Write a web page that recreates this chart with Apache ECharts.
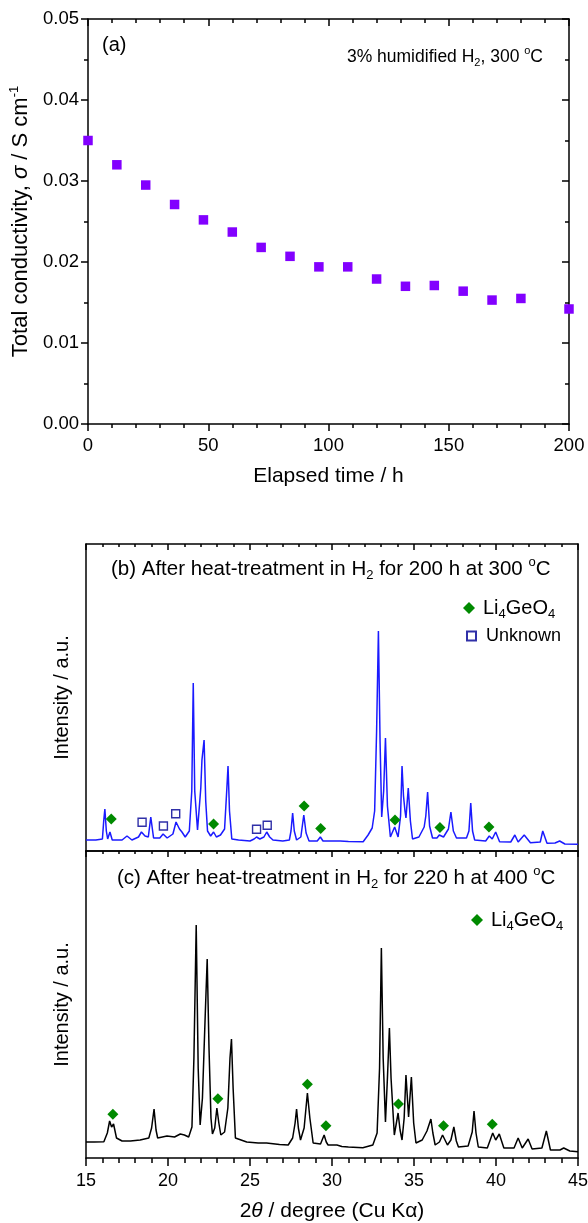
<!DOCTYPE html>
<html><head><meta charset="utf-8">
<script src="https://cdn.jsdelivr.net/npm/echarts@6/dist/echarts.min.js"></script>
<style>html,body{margin:0;padding:0;background:#fff}#c{width:588px;height:1223px}</style>
</head><body><div id="c"></div>
<script>
const FONT = '"Liberation Sans", Arial, Helvetica, sans-serif';

// ---- Panel (a): conductivity vs time ----
const timeH = [0, 12, 24, 36, 48, 60, 72, 84, 96, 108, 120, 132, 144, 156, 168, 180, 200];
const sigma = [0.0350, 0.0320, 0.0295, 0.0271, 0.0252, 0.0237, 0.0218, 0.0207, 0.0194, 0.0194, 0.0179, 0.0170, 0.0171, 0.0164, 0.0153, 0.0155, 0.0142];
const timeTicks = [0, 50, 100, 150, 200];
const sigmaTicks = [0.00, 0.01, 0.02, 0.03, 0.04, 0.05];

// ---- Panel (b): XRD after 200 h at 300 C ----
const twoThetaB = [15.0, 15.6, 16.0, 16.08, 16.15, 16.24, 16.32, 16.46, 16.6, 17.2, 17.5, 17.8, 18.2, 18.38, 18.6, 18.8, 18.95, 19.12, 19.5, 19.7, 19.95, 20.3, 20.49, 20.7, 20.85, 21.05, 21.3, 21.45, 21.54, 21.63, 21.8, 22.0, 22.07, 22.2, 22.3, 22.41, 22.6, 22.78, 22.95, 23.2, 23.45, 23.58, 23.66, 23.75, 23.89, 24.3, 25.0, 25.25, 25.4, 25.6, 25.85, 26.02, 26.2, 26.4, 27.0, 27.4, 27.5, 27.6, 27.7, 27.84, 28.1, 28.28, 28.42, 28.6, 29.1, 29.29, 29.45, 30.0, 30.5, 31.0, 31.9, 32.2, 32.45, 32.6, 32.72, 32.83, 32.93, 33.03, 33.15, 33.26, 33.38, 33.56, 33.82, 34.03, 34.18, 34.27, 34.36, 34.45, 34.51, 34.65, 34.78, 34.91, 35.3, 35.62, 35.72, 35.83, 35.95, 36.13, 36.4, 36.54, 36.8, 37.1, 37.25, 37.4, 37.59, 38.2, 38.35, 38.46, 38.57, 38.7, 39.37, 39.59, 39.77, 39.98, 40.22, 40.9, 41.15, 41.35, 41.72, 42.1, 42.7, 42.85, 43.11, 43.6, 43.88, 44.2, 45.0];
const intensityB = [11, 11, 12, 30, 42, 20, 12, 19, 11, 11, 15, 11, 14, 19, 15, 14, 34, 13, 13, 17, 13, 17, 29, 22, 19, 14, 20, 60, 168, 60, 21, 63, 91, 111, 50, 20, 15, 19, 14, 16, 22, 60, 85, 40, 12, 11, 10, 12, 14, 12, 14, 19, 14, 11, 10, 11, 20, 38, 20, 11, 14, 36, 18, 10, 10, 14, 10, 10, 10, 9.5, 9.3, 16, 23, 40, 120, 220, 110, 34, 60, 113, 45, 14, 24, 14, 35, 85, 55, 40, 33, 63, 30, 12, 14, 24, 35, 59, 25, 13, 13, 16, 14, 22, 39, 20, 13, 13, 20, 48, 20, 11, 10, 15, 12, 19, 9.3, 9, 16, 9, 16, 8.3, 9, 20, 7.7, 8, 10, 7, 6.7];
const li4geo4B2T = [16.54, 22.78, 28.3, 29.31, 33.84, 36.58, 39.57];
const li4geo4BInt = [32, 27, 45, 22.5, 31, 23.5, 24];
const unknownB2T = [18.42, 19.72, 20.47, 25.4, 26.05];
const unknownBInt = [28.7, 25, 37.3, 21.7, 25.7];

// ---- Panel (c): XRD after 220 h at 400 C ----
const twoThetaC = [15.0, 15.5, 16.09, 16.3, 16.44, 16.56, 16.68, 16.86, 17.2, 17.71, 18.3, 18.83, 19.0, 19.15, 19.27, 19.37, 19.94, 20.4, 20.75, 21.0, 21.26, 21.46, 21.58, 21.72, 21.84, 21.96, 22.1, 22.27, 22.39, 22.5, 22.62, 22.71, 22.85, 22.98, 23.1, 23.22, 23.45, 23.65, 23.78, 23.87, 23.97, 24.11, 24.8, 25.5, 26.01, 26.8, 27.33, 27.6, 27.75, 27.84, 27.95, 28.08, 28.3, 28.5, 28.65, 28.85, 29.3, 29.52, 29.65, 29.76, 30.3, 30.6, 31.0, 31.88, 32.49, 32.75, 32.9, 33.01, 33.12, 33.26, 33.38, 33.5, 33.6, 33.8, 34.03, 34.15, 34.27, 34.4, 34.51, 34.67, 34.84, 34.98, 35.12, 35.5, 35.79, 36.03, 36.15, 36.29, 36.55, 36.74, 37.04, 37.25, 37.43, 37.58, 37.71, 38.3, 38.55, 38.66, 38.78, 38.92, 39.47, 39.8, 39.98, 40.2, 40.48, 41.1, 41.35, 41.6, 41.96, 42.2, 42.8, 43.07, 43.32, 43.9, 44.13, 44.5, 45.0];
const intensityC = [16, 16, 16.3, 25, 37, 31, 34, 20, 17, 17, 18, 20, 30, 49, 28, 20, 22, 21, 24, 23, 21, 31, 100, 233, 90, 33, 60, 143, 199, 110, 40, 24, 30, 50, 35, 23, 26, 50, 100, 119, 70, 20, 16, 15, 15, 13.5, 13, 20, 35, 49, 30, 18, 30, 65, 40, 15, 14, 23, 16, 13, 13, 11.5, 11, 10.3, 13, 25, 90, 210, 100, 36, 80, 130, 80, 23, 45, 28, 18, 40, 83, 41, 81, 35, 15, 18, 27, 39, 25, 13, 16, 23, 13, 18, 31, 17, 11, 12, 26, 47, 25, 11, 10, 25, 18, 24, 10, 10, 20, 10, 19, 9, 10, 27, 8, 8, 10, 7, 6.3];
const li4geo4C2T = [16.64, 23.04, 28.5, 29.63, 34.05, 36.8, 39.77];
const li4geo4CInt = [43.7, 59.3, 73.7, 32.3, 54, 32.3, 33.7];
const twoThetaTicks = [15, 20, 25, 30, 35, 40, 45];

const zip = (a, b) => a.map((v, i) => [v, b[i]]);

const AX = '#000';
const axisLine = { show: true, onZero: false, lineStyle: { color: AX, width: 1.5 } };
const txt = { color: '#000', fontFamily: FONT };

function xAx(grid, pos, opts) {
  return Object.assign({
    gridIndex: grid, type: 'value', position: pos,
    axisLine: axisLine,
    splitLine: { show: false },
    axisLabel: { show: false },
    axisTick: { show: false },
    minorTick: { show: false }
  }, opts);
}
function yAx(grid, pos, opts) {
  return Object.assign({
    gridIndex: grid, type: 'value', position: pos,
    axisLine: axisLine,
    splitLine: { show: false },
    axisLabel: { show: false },
    axisTick: { show: false },
    minorTick: { show: false }
  }, opts);
}

const tickOut = (len) => ({ show: true, inside: false, length: len, lineStyle: { color: AX, width: 1.5 } });
const tickIn = (len) => ({ show: true, inside: true, length: len, lineStyle: { color: AX, width: 1.5 } });
const minor = (n, len) => ({ show: true, splitNumber: n, length: len, lineStyle: { color: AX, width: 1.5 } });

function axisRich(size) {
  return {
    t: { fontSize: size, lineHeight: size + 5, fontFamily: FONT, color: '#000' },
    i: { fontSize: size, lineHeight: size + 5, fontFamily: FONT, color: '#000', fontStyle: 'italic' },
    sup: { fontSize: 13, lineHeight: 13, fontFamily: FONT, color: '#000', verticalAlign: 'top' }
  };
}

function richText(size) {
  const s = Math.round(size * 0.65);
  return {
    n: { fontSize: size, lineHeight: size + 6, fontFamily: FONT, fill: '#000', color: '#000' },
    g: { fontSize: size, lineHeight: size + 6, fontFamily: FONT, fill: '#000', color: '#000', padding: [0, 0, 0, 3] },
    sb: { fontSize: s, lineHeight: s, fontFamily: FONT, fill: '#000', color: '#000', verticalAlign: 'bottom' },
    sp: { fontSize: s, lineHeight: s, fontFamily: FONT, fill: '#000', color: '#000', verticalAlign: 'top' }
  };
}

const chart = echarts.init(document.getElementById('c'), null, { renderer: 'canvas' });

const option = {
  backgroundColor: '#fff',
  animation: false,
  textStyle: { fontFamily: FONT, color: '#000' },
  grid: [
    { left: 88, top: 19, width: 481, height: 405, outerBoundsMode: 'none', containLabel: false },
    { left: 86, top: 544, width: 492, height: 307, outerBoundsMode: 'none', containLabel: false },
    { left: 86, top: 851, width: 492, height: 307, outerBoundsMode: 'none', containLabel: false }
  ],
  xAxis: [
    xAx(0, 'bottom', {
      min: timeTicks[0], max: timeTicks[timeTicks.length - 1], interval: timeTicks[1] - timeTicks[0],
      axisTick: tickOut(7), minorTick: minor(5, 4),
      axisLabel: Object.assign({ show: true, fontSize: 18.5, margin: 12 }, txt),
      name: 'Elapsed time / h', nameLocation: 'middle', nameGap: 42,
      nameTextStyle: Object.assign({ fontSize: 21 }, txt)
    }),
    xAx(0, 'top', {
      min: timeTicks[0], max: timeTicks[timeTicks.length - 1], interval: timeTicks[1] - timeTicks[0],
      axisTick: tickIn(7), minorTick: minor(5, 4)
    }),
    xAx(1, 'bottom', { min: twoThetaTicks[0], max: twoThetaTicks[twoThetaTicks.length - 1], interval: 5 }),
    xAx(1, 'top', {
      min: twoThetaTicks[0], max: twoThetaTicks[twoThetaTicks.length - 1], interval: 5,
      axisTick: tickIn(6), minorTick: minor(5, 3)
    }),
    xAx(2, 'bottom', {
      min: twoThetaTicks[0], max: twoThetaTicks[twoThetaTicks.length - 1], interval: 5,
      axisTick: tickOut(8), minorTick: minor(5, 5),
      axisLabel: Object.assign({ show: true, fontSize: 18, margin: 14 }, txt),
      name: '{t|2}{i|θ}{t| / degree (Cu K}{t|α}{t|)}', nameLocation: 'middle', nameGap: 40,
      nameTextStyle: Object.assign({ fontSize: 21, rich: axisRich(21) }, txt)
    }),
    xAx(2, 'top', {
      min: twoThetaTicks[0], max: twoThetaTicks[twoThetaTicks.length - 1], interval: 5,
      axisTick: tickIn(6), minorTick: minor(5, 3)
    })
  ],
  yAxis: [
    yAx(0, 'left', {
      min: sigmaTicks[0], max: sigmaTicks[sigmaTicks.length - 1], interval: sigmaTicks[1] - sigmaTicks[0],
      axisTick: tickOut(7), minorTick: minor(2, 4),
      axisLabel: Object.assign({ show: true, fontSize: 18.5, margin: 9, formatter: v => v.toFixed(2) }, txt),
      name: '{t|Total conductivity, }{i|σ}{t| / S cm}{sup|-1}', nameLocation: 'middle', nameGap: 52, nameRotate: 90,
      nameTextStyle: Object.assign({ fontSize: 22, rich: axisRich(22) }, txt)
    }),
    yAx(0, 'right', {
      min: sigmaTicks[0], max: sigmaTicks[sigmaTicks.length - 1], interval: sigmaTicks[1] - sigmaTicks[0],
      axisTick: tickIn(7), minorTick: minor(2, 4)
    }),
    yAx(1, 'left', {
      min: 0, max: 307,
      name: 'Intensity / a.u.', nameLocation: 'middle', nameGap: 14, nameRotate: 90,
      nameTextStyle: Object.assign({ fontSize: 20 }, txt)
    }),
    yAx(1, 'right', { min: 0, max: 307 }),
    yAx(2, 'left', {
      min: 0, max: 307,
      name: 'Intensity / a.u.', nameLocation: 'middle', nameGap: 14, nameRotate: 90,
      nameTextStyle: Object.assign({ fontSize: 20 }, txt)
    }),
    yAx(2, 'right', { min: 0, max: 307 })
  ],
  legend: [
    {
      data: ['Li4GeO4'], left: 458, top: 593, orient: 'vertical', selectedMode: false,
      itemWidth: 12, itemHeight: 12, itemGap: 6,
      formatter: () => '{g|Li}{sb|4}{n|GeO}{sb|4}',
      textStyle: { fontSize: 20, fontFamily: FONT, color: '#000', rich: richText(20) }
    },
    {
      data: ['Unknown'], left: 461, top: 622, orient: 'vertical', selectedMode: false,
      itemWidth: 9, itemHeight: 9,
      formatter: () => '{u|Unknown}',
      textStyle: { fontSize: 18, fontFamily: FONT, color: '#000',
        rich: { u: { fontSize: 18, fontFamily: FONT, color: '#000', padding: [0, 0, 0, 5] } } }
    },
    {
      data: ['Li4GeO4'], left: 466, top: 905, orient: 'vertical', selectedMode: false,
      itemWidth: 12, itemHeight: 12,
      formatter: () => '{g|Li}{sb|4}{n|GeO}{sb|4}',
      textStyle: { fontSize: 20, fontFamily: FONT, color: '#000', rich: richText(20) }
    }
  ],
  graphic: [
    { type: 'text', x: 102, y: 45, silent: true,
      style: { text: '(a)', font: '20px ' + FONT, fill: '#000', verticalAlign: 'middle', align: 'left' } },
    { type: 'text', x: 543, y: 57, silent: true,
      style: { text: '{n|3% humidified H}{sb|2}{n|, 300 }{sp|o}{n|C}', rich: richText(17.5), fill: '#000',
        font: '17.5px ' + FONT, align: 'right', verticalAlign: 'middle' } },
    { type: 'text', x: 111, y: 569, silent: true,
      style: { text: '{n|(b) After heat-treatment in H}{sb|2}{n| for 200 h at 300 }{sp|o}{n|C}', rich: richText(20.5), fill: '#000',
        font: '20.5px ' + FONT, align: 'left', verticalAlign: 'middle' } },
    { type: 'text', x: 117, y: 878, silent: true,
      style: { text: '{n|(c) After heat-treatment in H}{sb|2}{n| for 220 h at 400 }{sp|o}{n|C}', rich: richText(20.5), fill: '#000',
        font: '20.5px ' + FONT, align: 'left', verticalAlign: 'middle' } }
  ],
  series: [
    {
      type: 'scatter', name: 'sigma', xAxisIndex: 0, yAxisIndex: 0,
      data: zip(timeH, sigma), symbol: 'rect', symbolSize: 9.5,
      itemStyle: { color: '#8200ff', opacity: 1 }, clip: false, z: 3
    },
    {
      type: 'line', name: 'xrdB', xAxisIndex: 2, yAxisIndex: 2,
      data: zip(twoThetaB, intensityB), showSymbol: false, symbol: 'none',
      lineStyle: { color: '#1a1aff', width: 1.5 }, z: 2
    },
    {
      type: 'scatter', name: 'Li4GeO4', xAxisIndex: 2, yAxisIndex: 2,
      data: zip(li4geo4B2T, li4geo4BInt), symbol: 'diamond', symbolSize: 11,
      itemStyle: { color: '#008a00', opacity: 1 }, z: 4
    },
    {
      type: 'scatter', name: 'Unknown', xAxisIndex: 2, yAxisIndex: 2,
      data: zip(unknownB2T, unknownBInt), symbol: 'rect', symbolSize: 8,
      itemStyle: { color: '#ffffff', borderColor: '#3030a8', borderWidth: 1.4, opacity: 1 }, z: 4
    },
    {
      type: 'line', name: 'xrdC', xAxisIndex: 4, yAxisIndex: 4,
      data: zip(twoThetaC, intensityC), showSymbol: false, symbol: 'none',
      lineStyle: { color: '#000', width: 1.5 }, z: 2
    },
    {
      type: 'scatter', name: 'Li4GeO4', xAxisIndex: 4, yAxisIndex: 4,
      data: zip(li4geo4C2T, li4geo4CInt), symbol: 'diamond', symbolSize: 11,
      itemStyle: { color: '#008a00', opacity: 1 }, z: 4
    }
  ]
};
chart.setOption(option);
</script>
</body></html>
